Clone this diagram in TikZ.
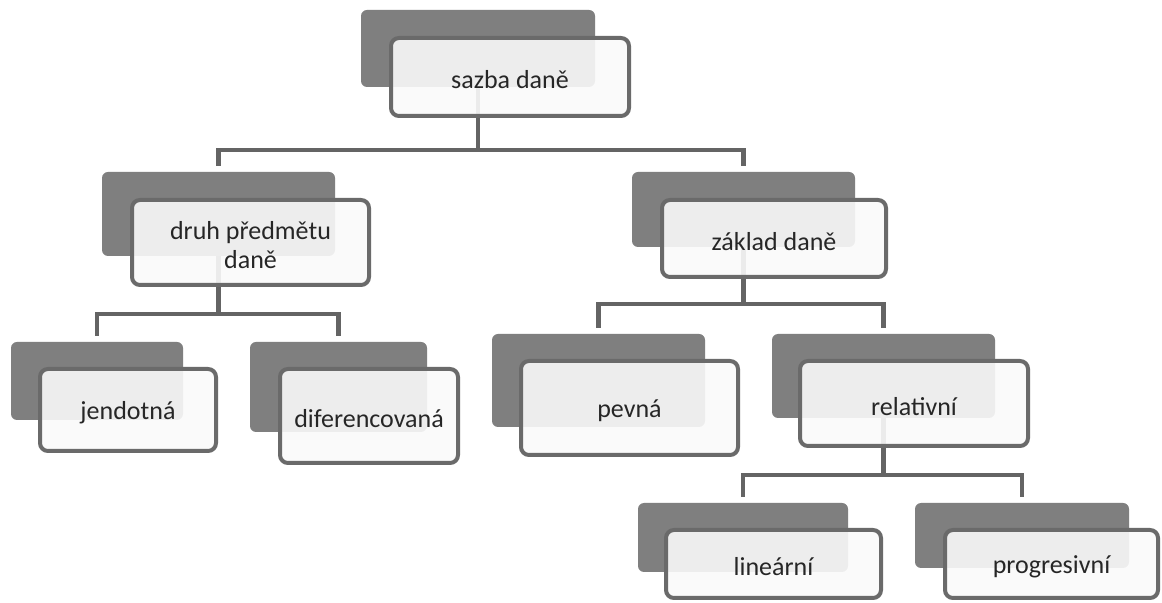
\documentclass[tikz,border=0pt]{standalone}
\usepackage{fontspec}
\setmainfont{Carlito}
\usetikzlibrary{fit}
\definecolor{cardback}{HTML}{7F7F7F}
\definecolor{cardedge}{HTML}{6A6A6A}
\definecolor{cardfill}{HTML}{FAFAFA}
\definecolor{linkline}{HTML}{646464}
\definecolor{cardtext}{HTML}{262626}
\begin{document}
\begin{tikzpicture}[x=0.5pt,y=-0.5pt,
  back/.style={fill=cardback, rounded corners=3pt, inner sep=0pt, outer sep=0pt},
  card/.style={draw=cardedge, line width=2pt, fill=cardfill, fill opacity=0.9,
    rounded corners=4pt, inner sep=0pt, outer sep=0pt},
  lbl/.style={inner sep=0pt, anchor=center, yshift=-1.5pt,
    font=\fontsize{13}{14.5}\selectfont, text=cardtext, align=center},
  link/.style={draw=linkline, line width=2.2pt}]

\fill[white] (0,0) rectangle (1162,603);
\useasboundingbox (0,0) rectangle (1162,603);

% back plates
\node[back, fit={(361,10) (595,87)}]   (rootB) {};
\node[back, fit={(102,172) (335,256)}] (kindB) {};
\node[back, fit={(632,172) (855,247)}] (baseB) {};
\node[back, fit={(11,342) (183,420)}]  (unifB) {};
\node[back, fit={(250,342) (427,432)}] (diffB) {};
\node[back, fit={(492,334) (705,427)}] (fixdB) {};
\node[back, fit={(772,334) (995,418)}] (relvB) {};
\node[back, fit={(638,503) (848,572)}] (linrB) {};
\node[back, fit={(915,503) (1129,568)}] (progB) {};

% junction levels
\coordinate (j0) at (0,150);
\coordinate (j1) at (0,314);
\coordinate (j2) at (0,304);
\coordinate (j3) at (0,475);

% connectors
\draw[link] (rootB.south) -- (rootB.south |- j0);
\draw[link] ([yshift=3pt]kindB.north) -- (kindB.north |- j0) -- (baseB.north |- j0) -- ([yshift=3pt]baseB.north);
\draw[link] (kindB.south) -- (kindB.south |- j1);
\draw[link] ([yshift=3pt]unifB.north) -- (unifB.north |- j1) -- (diffB.north |- j1) -- ([yshift=3pt]diffB.north);
\draw[link] (baseB.south) -- (baseB.south |- j2);
\draw[link] ([yshift=3pt]fixdB.north) -- (fixdB.north |- j2) -- (relvB.north |- j2) -- ([yshift=3pt]relvB.north);
\draw[link] (relvB.south) -- (relvB.south |- j3);
\draw[link] ([yshift=3pt]linrB.north) -- (linrB.north |- j3) -- (progB.north |- j3) -- ([yshift=3pt]progB.north);

% front cards
\node[card, fit={(391,38) (629,116)}]   (root) {};
\node[card, fit={(132,200) (369,285)}]  (kind) {};
\node[card, fit={(662,200) (886,277)}]  (base) {};
\node[card, fit={(40,369) (216,451)}]   (unif) {};
\node[card, fit={(280,369) (458,463)}]  (diff) {};
\node[card, fit={(521,361) (738,455)}]  (fixd) {};
\node[card, fit={(800,361) (1028,446)}] (relv) {};
\node[card, fit={(666,530) (881,598)}]  (linr) {};
\node[card, fit={(945,530) (1158,598)}] (prog) {};

% card texts
\node[lbl] (rootT) at (root.center) {sazba daně};
\node[lbl] (kindT) at (kind.center) {druh předmětu\\daně};
\node[lbl] (baseT) at (base.center) {základ daně};
\node[lbl] (unifT) at (unif.center) {jendotná};
\node[lbl] (diffT) at (diff.center) {diferencovaná};
\node[lbl] (fixdT) at (fixd.center) {pevná};
\node[lbl] (relvT) at (relv.center) {relativní};
\node[lbl] (linrT) at (linr.center) {lineární};
\node[lbl] (progT) at (prog.center) {progresivní};
\end{tikzpicture}
\end{document}
